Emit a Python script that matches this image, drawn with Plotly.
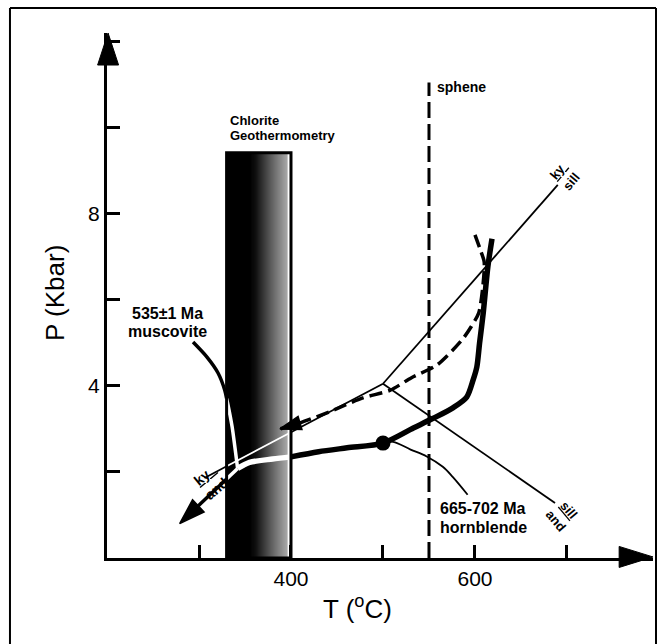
import numpy as np
import plotly.graph_objects as go

# ---------------- data ----------------
T_TICKS = [400, 600]
T_TICKTEXT = ["400", "600"]
T_MINOR_START, T_MINOR_STEP = 300, 100
P_TICKS = [4, 8]
P_TICKTEXT = ["4", "8"]
P_MINOR_START, P_MINOR_STEP = 2, 2

CHLORITE_T = [330, 400]
CHLORITE_PTOP = 9.42

SPHENE_T = [550, 550]
SPHENE_P = [0, 11.05]

KY_SILL_T = [500, 690]
KY_SILL_P = [4.05, 8.67]
SILL_AND_T = [500, 687]
SILL_AND_P = [4.05, 1.28]
KY_AND_T = [500, 306]
KY_AND_P = [4.05, 1.86]

PATH_T = [342, 355, 380, 400, 430, 461, 500, 533, 554, 576, 591, 598, 602, 605, 609, 614, 618.5]
PATH_P = [2.08, 2.22, 2.30, 2.35, 2.47, 2.56, 2.67, 3.02, 3.24, 3.49, 3.74, 4.14, 4.44, 5.0, 5.70, 6.77, 7.42]

DASH_T = [600, 606, 610, 608.5, 604, 596, 586, 559, 531, 508, 478, 442, 410, 388]
DASH_P = [7.51, 7.15, 6.88, 6.30, 5.69, 5.38, 5.07, 4.49, 4.19, 3.90, 3.72, 3.40, 3.14, 3.00]

RETRO_T = [342, 279]
RETRO_P = [2.08, 0.80]

MUSC_T = [293.5, 308.7, 320.7, 328, 331.5, 336, 339, 342]
MUSC_P = [5.02, 4.67, 4.30, 3.90, 3.56, 3.05, 2.58, 2.08]

HBL_T = [500, 511, 530, 547.5, 565, 576, 592]
HBL_P = [2.67, 2.70, 2.52, 2.36, 2.12, 1.88, 1.47]

DOT_T = [500]
DOT_P = [2.67]

FONT = "Liberation Sans, Arial, Helvetica, sans-serif"


def split_runs(T, P, lo, hi):
    pts = [(T[0], P[0])]
    for i in range(1, len(T)):
        t0, p0, t1, p1 = T[i - 1], P[i - 1], T[i], P[i]
        cuts = [b for b in (lo, hi) if (t0 - b) * (t1 - b) < 0]
        cuts.sort(reverse=t1 < t0)
        for b in cuts:
            f = (b - t0) / (t1 - t0)
            pts.append((b, p0 + f * (p1 - p0)))
        pts.append((t1, p1))
    runs = []
    for a, b in zip(pts[:-1], pts[1:]):
        ins = lo < (a[0] + b[0]) / 2 < hi
        if runs and runs[-1][0] == ins:
            runs[-1][1].append(b)
        else:
            runs.append([ins, [a, b]])
    return runs


fig = go.Figure()

# chlorite box gradient
n = 60
edges = list(np.linspace(CHLORITE_T[0], CHLORITE_T[1] - 3.5, n + 1)) + [CHLORITE_T[1]]
centers = [(edges[i] + edges[i + 1]) / 2 for i in range(len(edges) - 1)]
zrow = []
for i, c in enumerate(centers):
    if i == len(centers) - 1:
        zrow.append(1.0)
    else:
        v = (c - 356) / (396 - 356)
        zrow.append(0.9 * min(max(v, 0), 1) ** 0.9)
fig.add_trace(go.Heatmap(
    x=edges, y=[0, CHLORITE_PTOP], z=[zrow], zmin=0, zmax=1,
    colorscale=[[0, "#000000"], [0.15, "#111111"], [0.9, "#a8a8a8"], [0.95, "#a8a8a8"], [1, "#ffffff"]],
    showscale=False, hoverinfo="skip"))


def arrow_marker(n_pts, size, col):
    return dict(symbol="arrow", size=[0] * (n_pts - 1) + [size], angleref="previous",
                color=col, opacity=1, line=dict(color=col, width=1.5))


def add_split(T, P, width, dash=None, shape="linear", arrow=None):
    runs = split_runs(T, P, CHLORITE_T[0], CHLORITE_T[1])
    for k, (ins, pts) in enumerate(runs):
        xs = [p[0] for p in pts]
        ys = [p[1] for p in pts]
        col = "white" if ins else "black"
        kw = dict(mode="lines")
        if arrow and k == len(runs) - 1:
            kw = dict(mode="lines+markers", marker=arrow_marker(len(xs), arrow, col))
        fig.add_trace(go.Scatter(x=xs, y=ys, line=dict(color=col, width=width, dash=dash, shape=shape,
                                                       smoothing=0.8 if shape == "spline" else None),
                                 hoverinfo="skip", showlegend=False, cliponaxis=False, **kw))


# reaction lines
add_split(KY_SILL_T, KY_SILL_P, 1.8)
add_split(SILL_AND_T, SILL_AND_P, 1.8)
add_split(KY_AND_T, KY_AND_P, 1.8)

# sphene
fig.add_trace(go.Scatter(x=SPHENE_T, y=SPHENE_P, mode="lines",
                         line=dict(color="black", width=3, dash="16px,6px"),
                         hoverinfo="skip", showlegend=False))

# dashed path with arrow
fig.add_trace(go.Scatter(x=DASH_T, y=DASH_P, mode="lines+markers",
                         line=dict(color="black", width=3.5, dash="13px,6px", shape="spline", smoothing=0.7),
                         marker=arrow_marker(len(DASH_T), 22, "black"),
                         hoverinfo="skip", showlegend=False))

# thick path
add_split(PATH_T, PATH_P, 5.5, shape="spline")
# muscovite arrow
add_split(MUSC_T, MUSC_P, 3.5, shape="spline")
# retrograde arrow
add_split(RETRO_T, RETRO_P, 3.5, arrow=27)
# hornblende leader
fig.add_trace(go.Scatter(x=HBL_T, y=HBL_P, mode="lines",
                         line=dict(color="black", width=1.8, shape="spline"),
                         hoverinfo="skip", showlegend=False))
# dot
fig.add_trace(go.Scatter(x=DOT_T, y=DOT_P, mode="markers",
                         marker=dict(color="black", size=15), hoverinfo="skip", showlegend=False))

shapes = [
    dict(type="rect", xref="x", yref="y", x0=CHLORITE_T[0], x1=CHLORITE_T[1], y0=0, y1=CHLORITE_PTOP,
         line=dict(color="black", width=3), layer="above"),
    # axis arrowheads
    dict(type="path", xref="paper", yref="paper",
         path="M 0.002 1.0 L -0.0172 0.939 L 0.0212 0.939 Z",
         fillcolor="black", line=dict(color="black", width=1)),
    dict(type="path", xref="paper", yref="paper",
         path="M 1.0 0.002 L 0.938 0.022 L 0.938 -0.018 Z",
         fillcolor="black", line=dict(color="black", width=1)),
    # frame
    dict(type="line", xref="paper", yref="paper", x0=-0.1777, x1=-0.1777, y0=-0.2, y1=1.0476,
         line=dict(color="black", width=2)),
    dict(type="line", xref="paper", yref="paper", x0=-0.1777, x1=1.0055, y0=1.0476, y1=1.0476,
         line=dict(color="black", width=2)),
    dict(type="line", xref="paper", yref="paper", x0=1.0055, x1=1.0055, y0=-0.2, y1=1.0476,
         line=dict(color="black", width=2)),
]


def ann(text, x, y, size, xanchor="center", bold=True, angle=0, xref="x", yref="y"):
    t = f"<b>{text}</b>" if bold else text
    return dict(text=t, x=x, y=y, xref=xref, yref=yref, showarrow=False, xanchor=xanchor,
                yanchor="middle", textangle=angle, font=dict(family=FONT, size=size, color="black"))


annotations = [
    ann("P (Kbar)", -0.095, 0.505, 26, bold=False, angle=-90, xref="paper", yref="paper"),
    ann("T (<sup>o</sup>C)", 0.458, -0.095, 26, bold=False, xref="paper", yref="paper"),
    ann("sphene", 556.5, 10.95, 14, xanchor="left"),
    ann("Chlorite", 331, 10.16, 13, xanchor="left"),
    ann("Geothermometry", 331, 9.82, 13, xanchor="left"),
    ann("535±1 Ma", 266, 5.69, 16),
    ann("muscovite", 266, 5.27, 16),
    ann("665-702 Ma", 560, 1.14, 16, xanchor="left"),
    ann("hornblende", 560, 0.72, 16, xanchor="left"),
    ann("<u>ky </u><br>sill", 698, 8.87, 13, angle=-50),
    ann("<u>sill</u><br>and", 694.6, 1.0, 13, angle=50),
    ann("<u>ky  </u><br>and", 312, 1.77, 14, angle=-40),
]

axis_common = dict(showgrid=False, zeroline=False, showline=True, linecolor="black", linewidth=3,
                   ticks="inside", ticklen=13, tickwidth=3, tickcolor="black",
                   tickfont=dict(family=FONT, size=21, color="black"))

fig.update_layout(
    width=664, height=644,
    margin=dict(l=107, r=11, t=33, b=86),
    paper_bgcolor="white", plot_bgcolor="white",
    showlegend=False,
    shapes=shapes, annotations=annotations,
    font=dict(family=FONT, color="black"),
    xaxis=dict(range=[200, 793.5], tickvals=T_TICKS, ticktext=T_TICKTEXT,
               minor=dict(ticks="inside", ticklen=13, tickwidth=3, tickcolor="black",
                          tick0=T_MINOR_START, dtick=T_MINOR_STEP, showgrid=False),
               **axis_common),
    yaxis=dict(range=[0, 12.2], tickvals=P_TICKS, ticktext=P_TICKTEXT,
               minor=dict(ticks="inside", ticklen=13, tickwidth=3, tickcolor="black",
                          tick0=P_MINOR_START, dtick=P_MINOR_STEP, showgrid=False),
               **axis_common),
)

fig.write_html("out.html")
